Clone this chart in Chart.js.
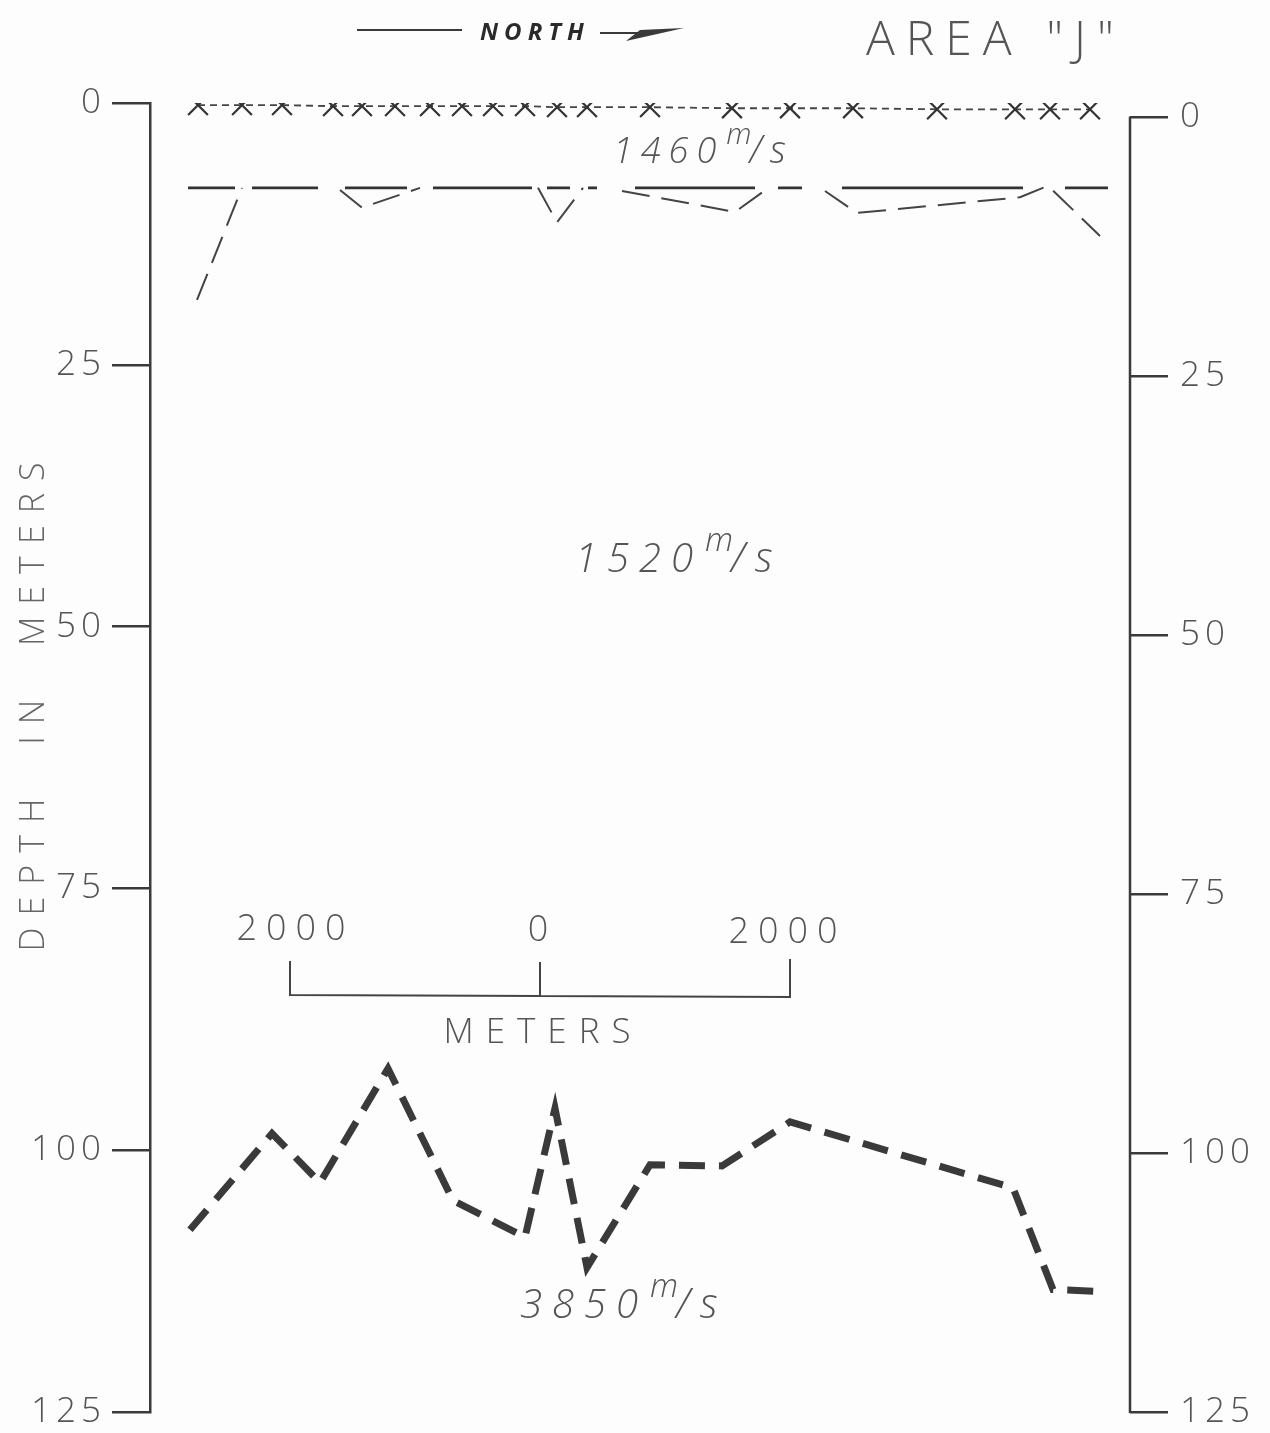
<!DOCTYPE html>
<html>
<head>
<meta charset="utf-8">
<script src="https://cdn.jsdelivr.net/npm/chart.js@4.4.1/dist/chart.umd.min.js"></script>
<style>
  html, body { margin: 0; padding: 0; background: #fdfdfd; }
  canvas { display: block; }
</style>
</head>
<body>
<canvas id="c" width="1270" height="1433"></canvas>
<script>
// distance along profile in meters (0 = left axis), depth in meters

// shot stations on the surface (1460 m/s layer top)
const stationX = [384, 736, 1056, 1464, 1696, 1960, 2240, 2496, 2744, 3000, 3256, 3496, 4000, 4656, 5120, 5624, 6296, 6920, 7200, 7520];
const stationDepth = [0.2, 0.2, 0.2, 0.3, 0.3, 0.3, 0.3, 0.3, 0.3, 0.3, 0.4, 0.4, 0.4, 0.5, 0.5, 0.5, 0.6, 0.6, 0.6, 0.6];

// 1460/1520 interface, flat interpretation (drawn pieces)
const flatStart = [304, 816, 1560, 2264, 3176, 3504, 3880, 5024, 5536, 7320];
const flatEnd   = [680, 1344, 2056, 3056, 3360, 3576, 4840, 5216, 6984, 7664];
const flatDepth = 8.1;

// 1460/1520 interface, irregular interpretation (null = break)
const dipX     = [376, 736, null, 1520, 1696, 2160, null, 3104, 3256, 3464, null, 3776, 4680, 4936, null, 5400, 5656, 6960, 7184, 7600];
const dipDepth = [18.8, 8.1, null, 8.3, 10.0, 8.1, null, 8.1, 11.4, 8.1, null, 8.4, 10.4, 8.2, null, 8.4, 10.5, 9.0, 7.9, 12.7];

// top of 3850 m/s refractor
const refX     = [320, 976, 1360, 1904, 2424, 3000, 3240, 3496, 4000, 4576, 5120, 6904, 7224, 7624];
const refDepth = [107.6, 98.4, 103.1, 92.2, 104.8, 108.3, 96.0, 111.2, 101.4, 101.5, 97.3, 103.6, 113.3, 113.5];

const depthTicks = [0, 25, 50, 75, 100, 125];
const velocities = ['1460', '1520', '3850'];
const scaleBar = { center: 3120, half: 2000 };

const ink = '#3a3a3a';
const txt = '#555';
const FONT = "'Open Sans', 'DejaVu Sans', sans-serif";

const zip = (xs, ys) => xs.map((x, i) => ({ x: x == null ? xs[i - 1] : x, y: ys[i] }));

const flatData = [];
flatStart.forEach((s, i) => {
  flatData.push({ x: s, y: flatDepth }, { x: flatEnd[i], y: flatDepth });
  if (i < flatStart.length - 1) flatData.push({ x: flatEnd[i], y: null });
});

function spaced(ctx, text, x, y, font, spacing, align) {
  ctx.font = font;
  ctx.letterSpacing = spacing + 'px';
  let w = ctx.measureText(text).width - spacing;
  let sx = align === 'center' ? x - w / 2 : (align === 'right' ? x - w : x);
  ctx.textAlign = 'left';
  ctx.fillText(text, sx, y);
  return sx + w + spacing;
}

function velLabel(ctx, text, x, y, size, spacing) {
  ctx.fillStyle = txt;
  let e = spaced(ctx, text, x, y, `italic 300 ${size}px ${FONT}`, spacing, 'left');
  e = spaced(ctx, 'm', e + 2, y - size * 0.52, `italic 300 ${size * 0.82}px ${FONT}`, 0, 'left');
  spaced(ctx, '/s', e - 2, y, `italic 300 ${size * 1.05}px ${FONT}`, spacing, 'left');
}

const paper = {
  id: 'paper',
  beforeDraw(chart) {
    chart.ctx.letterSpacing = '5px';
  },
  afterDraw(chart) {
    const ctx = chart.ctx;
    const xs = chart.scales.x, y2 = chart.scales.y2;
    const a = chart.chartArea;
    ctx.save();
    ctx.strokeStyle = ink;
    ctx.fillStyle = ink;
    ctx.lineCap = 'butt';

    // right axis spine (starts at its own 0)
    ctx.lineWidth = 2.5;
    ctx.beginPath();
    ctx.moveTo(a.right, y2.getPixelForValue(0) - 1);
    ctx.lineTo(a.right, a.bottom + 1);
    ctx.stroke();

    // north arrow
    ctx.lineWidth = 2;
    ctx.beginPath();
    ctx.moveTo(357, 30); ctx.lineTo(462, 30);
    ctx.moveTo(600, 33); ctx.lineTo(645, 33);
    ctx.stroke();
    ctx.beginPath();
    ctx.moveTo(626, 41); ctx.lineTo(684, 28); ctx.lineTo(640, 30); ctx.closePath();
    ctx.fill();
    ctx.fillStyle = '#2a2a2a';
    spaced(ctx, 'NORTH', 480, 40, `italic bold 24px ${FONT}`, 6, 'left');

    // area title
    ctx.fillStyle = txt;
    spaced(ctx, 'AREA "J"', 866, 55, `300 48px ${FONT}`, 11, 'left');

    // velocity labels
    velLabel(ctx, velocities[0], 613, 163, 36, 8);
    velLabel(ctx, velocities[1], 575, 572, 40, 10);
    velLabel(ctx, velocities[2], 520, 1318, 40, 10);

    // depth axis title
    ctx.save();
    ctx.translate(44, 707);
    ctx.rotate(-Math.PI / 2);
    ctx.fillStyle = '#666';
    spaced(ctx, 'DEPTH  IN  METERS', 0, 0, `300 34px ${FONT}`, 12, 'center');
    ctx.restore();

    // distance scale bar
    const L = xs.getPixelForValue(scaleBar.center - scaleBar.half);
    const C = xs.getPixelForValue(scaleBar.center);
    const R = xs.getPixelForValue(scaleBar.center + scaleBar.half);
    ctx.strokeStyle = '#444';
    ctx.lineWidth = 2;
    ctx.beginPath();
    ctx.moveTo(L, 961); ctx.lineTo(L, 995);
    ctx.lineTo(R, 997); ctx.lineTo(R, 959);
    ctx.moveTo(C, 962); ctx.lineTo(C, 996);
    ctx.stroke();
    ctx.fillStyle = txt;
    spaced(ctx, String(scaleBar.half), L + 1, 940, `300 36px ${FONT}`, 9, 'center');
    spaced(ctx, '0', C - 2, 941, `300 36px ${FONT}`, 9, 'center');
    spaced(ctx, String(scaleBar.half), R - 7, 943, `300 36px ${FONT}`, 9, 'center');
    spaced(ctx, 'METERS', C - 3, 1043, `300 35px ${FONT}`, 12, 'center');

    ctx.restore();
    ctx.letterSpacing = '0px';
  }
};

const axisCommon = {
  type: 'linear',
  reverse: true,
  grid: { drawOnChartArea: false, drawTicks: true, tickLength: 38, color: ink, lineWidth: 2.5 },
  ticks: { stepSize: 25, color: txt, font: { family: FONT, size: 35, weight: '300' } }
};

// fixed axis widths, no label overflow padding
const fitAxis = w => s => { s.width = w; s.paddingTop = 0; s.paddingBottom = 0; };

new Chart(document.getElementById('c'), {
  type: 'line',
  data: {
    datasets: [
      {
        label: '1460 m/s surface',
        data: zip(stationX, stationDepth),
        borderColor: '#444',
        borderWidth: 1.8,
        borderDash: [7, 5],
        pointStyle: 'crossRot',
        pointRadius: 14,
        pointBorderWidth: 2.2,
        pointBorderColor: '#333'
      },
      {
        label: 'flat interface',
        data: flatData,
        borderColor: '#333',
        borderWidth: 2.8,
        pointRadius: 0,
        spanGaps: false
      },
      {
        label: 'irregular interface',
        data: zip(dipX, dipDepth),
        borderColor: '#444',
        borderWidth: 2,
        borderDash: [28, 12],
        pointRadius: 0,
        spanGaps: false
      },
      {
        label: '3850 m/s',
        data: zip(refX, refDepth),
        borderColor: '#3a3a3a',
        borderWidth: 7,
        borderDash: [26, 14],
        pointRadius: 0
      }
    ]
  },
  options: {
    responsive: false,
    animation: false,
    devicePixelRatio: 1,
    layout: { padding: { top: 103, bottom: 21, left: 0, right: 0 } },
    plugins: { legend: { display: false }, tooltip: { enabled: false } },
    scales: {
      x: { type: 'linear', min: 0, max: 7840, display: false },
      y: {
        ...axisCommon,
        position: 'left',
        min: 0, max: 125,
        border: { display: true, color: ink, width: 2.5 },
        ticks: { ...axisCommon.ticks, padding: 6 },
        afterBuildTicks: s => { s.ticks = depthTicks.map(v => ({ value: v })); },
        afterFit: fitAxis(150)
      },
      y2: {
        ...axisCommon,
        position: 'right',
        min: -1.4, max: 125,
        border: { display: false },
        ticks: { ...axisCommon.ticks, padding: 12 },
        afterBuildTicks: s => { s.ticks = depthTicks.map(v => ({ value: v })); },
        afterFit: fitAxis(140)
      }
    }
  },
  plugins: [paper]
});
</script>
</body>
</html>
